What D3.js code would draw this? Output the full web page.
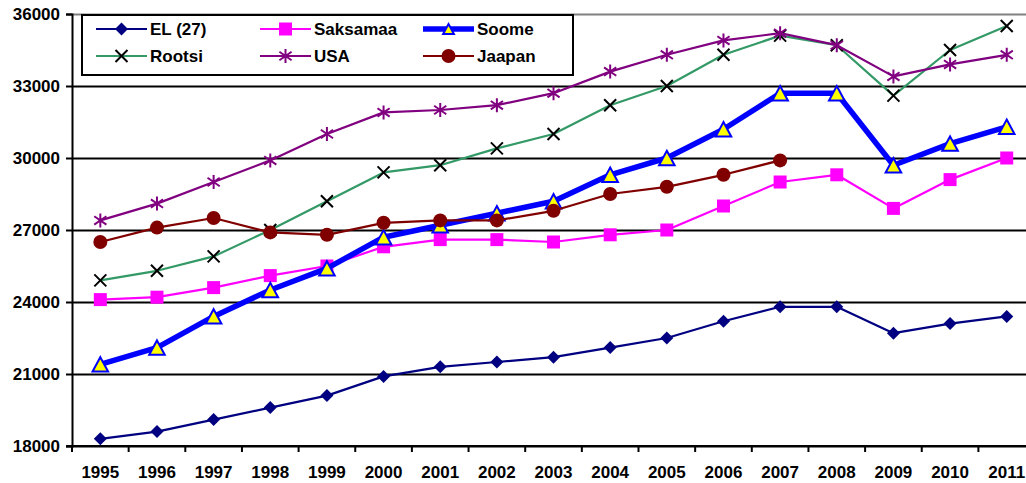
<!DOCTYPE html>
<html>
<head>
<meta charset="utf-8">
<script src="https://cdn.jsdelivr.net/npm/d3@7"></script>
<style>
  html, body { margin: 0; padding: 0; background: #fff; }
  svg { display: block; font-family: "Liberation Sans", Arial, sans-serif; font-weight: bold; }
</style>
</head>
<body>
<svg id="chart" width="1026" height="483"></svg>
<script>
// Years on the category axis
const years = ["1995","1996","1997","1998","1999","2000","2001","2002","2003","2004","2005","2006","2007","2008","2009","2010","2011"];
const yTicks = [18000, 21000, 24000, 27000, 30000, 33000, 36000];

// Series values per year
const el27     = [18300,18600,19100,19600,20100,20900,21300,21500,21700,22100,22500,23200,23800,23800,22700,23100,23400];
const saksamaa = [24100,24200,24600,25100,25500,26300,26600,26600,26500,26800,27000,28000,29000,29300,27900,29100,30000];
const soome    = [21400,22100,23400,24500,25400,26700,27200,27700,28200,29300,30000,31200,32700,32700,29700,30600,31300];
const rootsi   = [24900,25300,25900,27000,28200,29400,29700,30400,31000,32200,33000,34300,35100,34700,32600,34500,35500];
const usa      = [27400,28100,29000,29900,31000,31900,32000,32200,32700,33600,34300,34900,35200,34700,33400,33900,34300];
const jaapan   = [26500,27100,27500,26900,26800,27300,27400,27400,27800,28500,28800,29300,29900];

// Marker shapes
const markerPaths = {
  diamond: r => `M0,${-r}L${r},0L0,${r}L${-r},0Z`,
  square: r => `M${-r},${-r}H${r}V${r}H${-r}Z`,
  triangle: r => `M0,${-r}L${r * 1.08},${r}L${-r * 1.08},${r}Z`,
  times: r => `M${-r},${-r}L${r},${r}M${r},${-r}L${-r},${r}`,
  star: r => `M0,${-r}V${r}M${-r * 0.87},${-r * 0.6}L${r * 0.87},${r * 0.6}M${r * 0.87},${-r * 0.6}L${-r * 0.87},${r * 0.6}`,
  circle: r => `M${r},0A${r},${r} 0 1,1 ${-r},0A${r},${r} 0 1,1 ${r},0Z`
};

const series = [
  { name: "EL (27)",  values: el27,     line: "#000080", width: 2.2, marker: "diamond",  r: 6.5, fill: "#000080", stroke: "none",    sw: 0 },
  { name: "Saksamaa", values: saksamaa, line: "#FF00FF", width: 2.2, marker: "square",   r: 6.5, fill: "#FF00FF", stroke: "none",    sw: 0 },
  { name: "Soome",    values: soome,    line: "#0000FF", width: 5.5, marker: "triangle", r: 7.2, fill: "#FFFF00", stroke: "#0000FF", sw: 2 },
  { name: "Rootsi",   values: rootsi,   line: "#339966", width: 2.2, marker: "times",    r: 6,   fill: "none",    stroke: "#000000", sw: 2 },
  { name: "USA",      values: usa,      line: "#800080", width: 2.2, marker: "star",     r: 7,   fill: "none",    stroke: "#800080", sw: 2 },
  { name: "Jaapan",   values: jaapan,   line: "#800000", width: 2.2, marker: "circle",   r: 7,   fill: "#800000", stroke: "none",    sw: 0 }
];

const svg = d3.select("#chart");
const plotLeft = 72, plotTop = 14, plotBottom = 446, plotRight = 1026;
const step = 56.65;

const x = d3.scaleBand().domain(years).range([plotLeft, plotLeft + step * years.length]).paddingInner(0).paddingOuter(0);
const xc = yr => x(yr) + x.bandwidth() / 2;
const y = d3.scaleLinear().domain([18000, 36000]).range([plotBottom, plotTop]);

// Horizontal gridlines
const grid = svg.append("g").attr("transform", `translate(${plotLeft},0)`)
  .call(d3.axisLeft(y).tickValues(yTicks).tickSize(-(plotRight - plotLeft)).tickFormat(""));
grid.select(".domain").remove();
grid.selectAll(".tick line")
  .attr("stroke", d => d === 36000 ? "#808080" : "#000")
  .attr("stroke-width", 2);

// Y axis with labels
const yAxis = svg.append("g").attr("transform", `translate(${plotLeft},0)`)
  .call(d3.axisLeft(y).tickValues(yTicks).tickSize(6).tickPadding(6).tickFormat(d3.format("d")));
yAxis.select(".domain").attr("stroke", "#000").attr("stroke-width", 2);
yAxis.selectAll(".tick line").attr("stroke", "#000").attr("stroke-width", 2);
yAxis.selectAll(".tick text")
  .attr("font-size", 17).attr("font-weight", "bold").attr("fill", "#000")
  .attr("font-family", "Liberation Sans, Arial, sans-serif");

// X axis: baseline, ticks between categories, year labels centred in each category
const xAxis = svg.append("g");
xAxis.append("line").attr("x1", plotLeft - 6).attr("x2", plotRight)
  .attr("y1", plotBottom).attr("y2", plotBottom).attr("stroke", "#000").attr("stroke-width", 2);
const tickPos = years.map(yr => x(yr)).concat([x(years[years.length - 1]) + x.bandwidth()]);
xAxis.selectAll("line.tk").data(tickPos).join("line").attr("class", "tk")
  .attr("x1", d => d).attr("x2", d => d).attr("y1", plotBottom).attr("y2", plotBottom + 6)
  .attr("stroke", "#000").attr("stroke-width", 2);
xAxis.selectAll("text").data(years).join("text")
  .attr("x", d => xc(d)).attr("y", 478)
  .attr("text-anchor", "middle").attr("font-size", 17).attr("fill", "#000")
  .text(d => d);

// Series lines and markers
const lineGen = d3.line().x((d, i) => xc(years[i])).y(d => y(d));

series.forEach(s => {
  const g = svg.append("g");
  g.append("path").datum(s.values).attr("d", lineGen)
    .attr("fill", "none").attr("stroke", s.line).attr("stroke-width", s.width)
    .attr("stroke-linejoin", "round");
  g.selectAll("path.m").data(s.values).join("path").attr("class", "m")
    .attr("transform", (d, i) => `translate(${xc(years[i])},${y(d)})`)
    .attr("d", markerPaths[s.marker](s.r))
    .attr("fill", s.fill).attr("stroke", s.stroke).attr("stroke-width", s.sw);
});

// Legend
const legend = svg.append("g");
legend.append("rect").attr("x", 82).attr("y", 15).attr("width", 491).attr("height", 60)
  .attr("fill", "#fff").attr("stroke", "#000").attr("stroke-width", 2);
const colX = [96, 260, 423];
const rowY = [29, 56];
series.forEach((s, i) => {
  const cx = colX[i % 3], cy = rowY[Math.floor(i / 3)];
  const item = legend.append("g");
  item.append("line").attr("x1", cx).attr("x2", cx + 51).attr("y1", cy).attr("y2", cy)
    .attr("stroke", s.line).attr("stroke-width", s.width);
  item.append("path").attr("transform", `translate(${cx + 25.5},${cy})`)
    .attr("d", markerPaths[s.marker](s.marker === "triangle" ? 5 : s.r))
    .attr("fill", s.fill).attr("stroke", s.stroke).attr("stroke-width", s.sw);
  item.append("text").attr("x", cx + 54).attr("y", cy + 6)
    .attr("font-size", 17).attr("fill", "#000").text(s.name);
});
</script>
</body>
</html>
